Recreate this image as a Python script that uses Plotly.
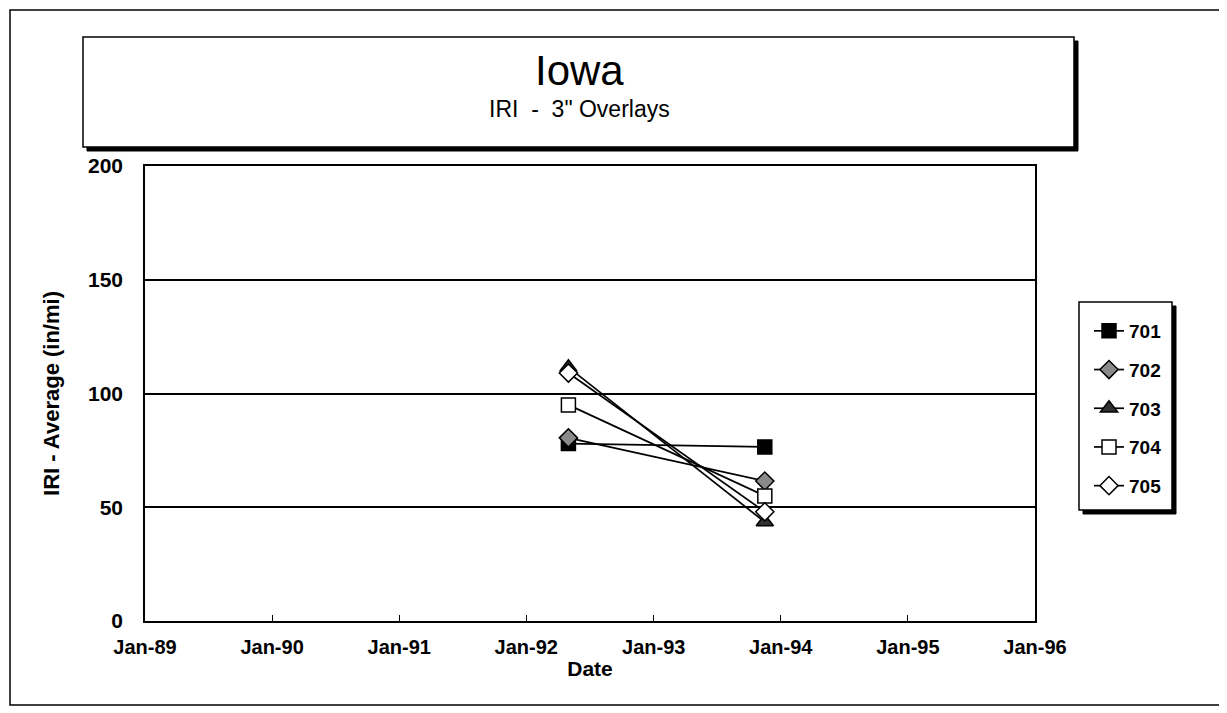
import plotly.graph_objects as go

# ---- data ----
dates = ["1992-05-01", "1993-11-16"]
series_names = ["701", "702", "703", "704", "705"]
iri_701 = [78, 76.5]
iri_702 = [80.5, 61.5]
iri_703 = [111.5, 43.5]
iri_704 = [95, 55]
iri_705 = [109, 48]
series_values = [iri_701, iri_702, iri_703, iri_704, iri_705]
y_ticks = [0, 50, 100, 150, 200]

styles = {
    "701": dict(symbol="square", color="black", line=dict(color="black", width=1.5), size=14),
    "702": dict(symbol="diamond", color="#8a8a8a", line=dict(color="black", width=1.5), size=14),
    "703": dict(symbol="triangle-up", color="#303030", line=dict(color="black", width=1.5), size=15),
    "704": dict(symbol="square", color="white", line=dict(color="black", width=1.5), size=14),
    "705": dict(symbol="diamond", color="white", line=dict(color="black", width=1.5), size=14),
}

OFF = 8  # page body margin
W, H = 1219, 705
L, T = 145 - OFF, 166 - OFF
R = W - (1035 - OFF)
B = H - (621 - OFF)
PW, PH = W - L - R, H - T - B


def px(xs):
    return (xs - OFF - L) / PW


def py(ys):
    return ((H - B) - (ys - OFF)) / PH


fig = go.Figure()
for name, vals in zip(series_names, series_values):
    fig.add_trace(go.Scatter(
        x=dates, y=vals, mode="lines+markers", name=name,
        legendgroup=name,
        line=dict(color="black", width=1.7),
        marker=styles[name],
    ))

font_main = "Liberation Sans, Arial, sans-serif"
font_bold = "Liberation Sans, Arial, sans-serif"

shapes = []
# outer border
shapes.append(dict(type="rect", xref="paper", yref="paper",
                   x0=px(10), x1=px(1222), y0=py(705), y1=py(10),
                   line=dict(color="black", width=1.5), layer="below"))
# title box shadow + box
shapes.append(dict(type="rect", xref="paper", yref="paper",
                   x0=px(87), x1=px(1078), y0=py(151), y1=py(41),
                   fillcolor="black", line=dict(color="black", width=1), layer="below"))
shapes.append(dict(type="rect", xref="paper", yref="paper",
                   x0=px(83), x1=px(1074), y0=py(147), y1=py(37),
                   fillcolor="white", line=dict(color="black", width=1.5), layer="below"))
# legend box shadow + box
shapes.append(dict(type="rect", xref="paper", yref="paper",
                   x0=px(1083), x1=px(1176), y0=py(514), y1=py(306),
                   fillcolor="black", line=dict(color="black", width=1), layer="below"))
shapes.append(dict(type="rect", xref="paper", yref="paper",
                   x0=px(1079), x1=px(1172), y0=py(510), y1=py(302),
                   fillcolor="white", line=dict(color="black", width=1.5), layer="below"))

annotations = [
    dict(text="Iowa", xref="paper", yref="paper", x=px(579), y=py(70),
         showarrow=False, xanchor="center", yanchor="middle",
         font=dict(family=font_main, size=42, color="black")),
    dict(text="IRI  -  3\" Overlays", xref="paper", yref="paper", x=px(579), y=py(109),
         showarrow=False, xanchor="center", yanchor="middle",
         font=dict(family=font_main, size=23, color="black")),
]

fig.update_layout(
    width=W, height=H,
    margin=dict(l=L, r=R, t=T, b=B, pad=0),
    paper_bgcolor="white", plot_bgcolor="white",
    showlegend=True,
    legend=dict(x=px(1089), y=py(312), xanchor="left", yanchor="top",
                bgcolor="rgba(0,0,0,0)", borderwidth=0,
                tracegroupgap=11, itemwidth=30,
                font=dict(family=font_bold, size=19, color="black", weight="bold")),
    shapes=shapes,
    annotations=annotations,
    xaxis=dict(
        type="date",
        range=["1989-01-01", "1996-01-01"],
        tick0="1989-01-01", dtick="M12", tickformat="%b-%y",
        ticks="inside", ticklen=6, tickcolor="black", tickwidth=1,
        ticklabelstandoff=7,
        showline=True, linecolor="black", linewidth=1.5, mirror=True,
        showgrid=False, zeroline=False,
        tickfont=dict(family=font_bold, size=20, color="black", weight="bold"),
        title=dict(text="<b>Date</b>", standoff=5,
                   font=dict(family=font_bold, size=21, color="black")),
    ),
    yaxis=dict(
        range=[0, 200], tickvals=y_ticks,
        ticks="", ticklabelstandoff=16,
        showline=True, linecolor="black", linewidth=1.5, mirror=True,
        showgrid=True, gridcolor="black", gridwidth=2,
        zeroline=False,
        tickfont=dict(family=font_bold, size=21, color="black", weight="bold"),
        title=dict(text="<b>IRI - Average (in/mi)</b>", standoff=22,
                   font=dict(family=font_bold, size=22, color="black")),
    ),
)

fig.write_html("out.html")
